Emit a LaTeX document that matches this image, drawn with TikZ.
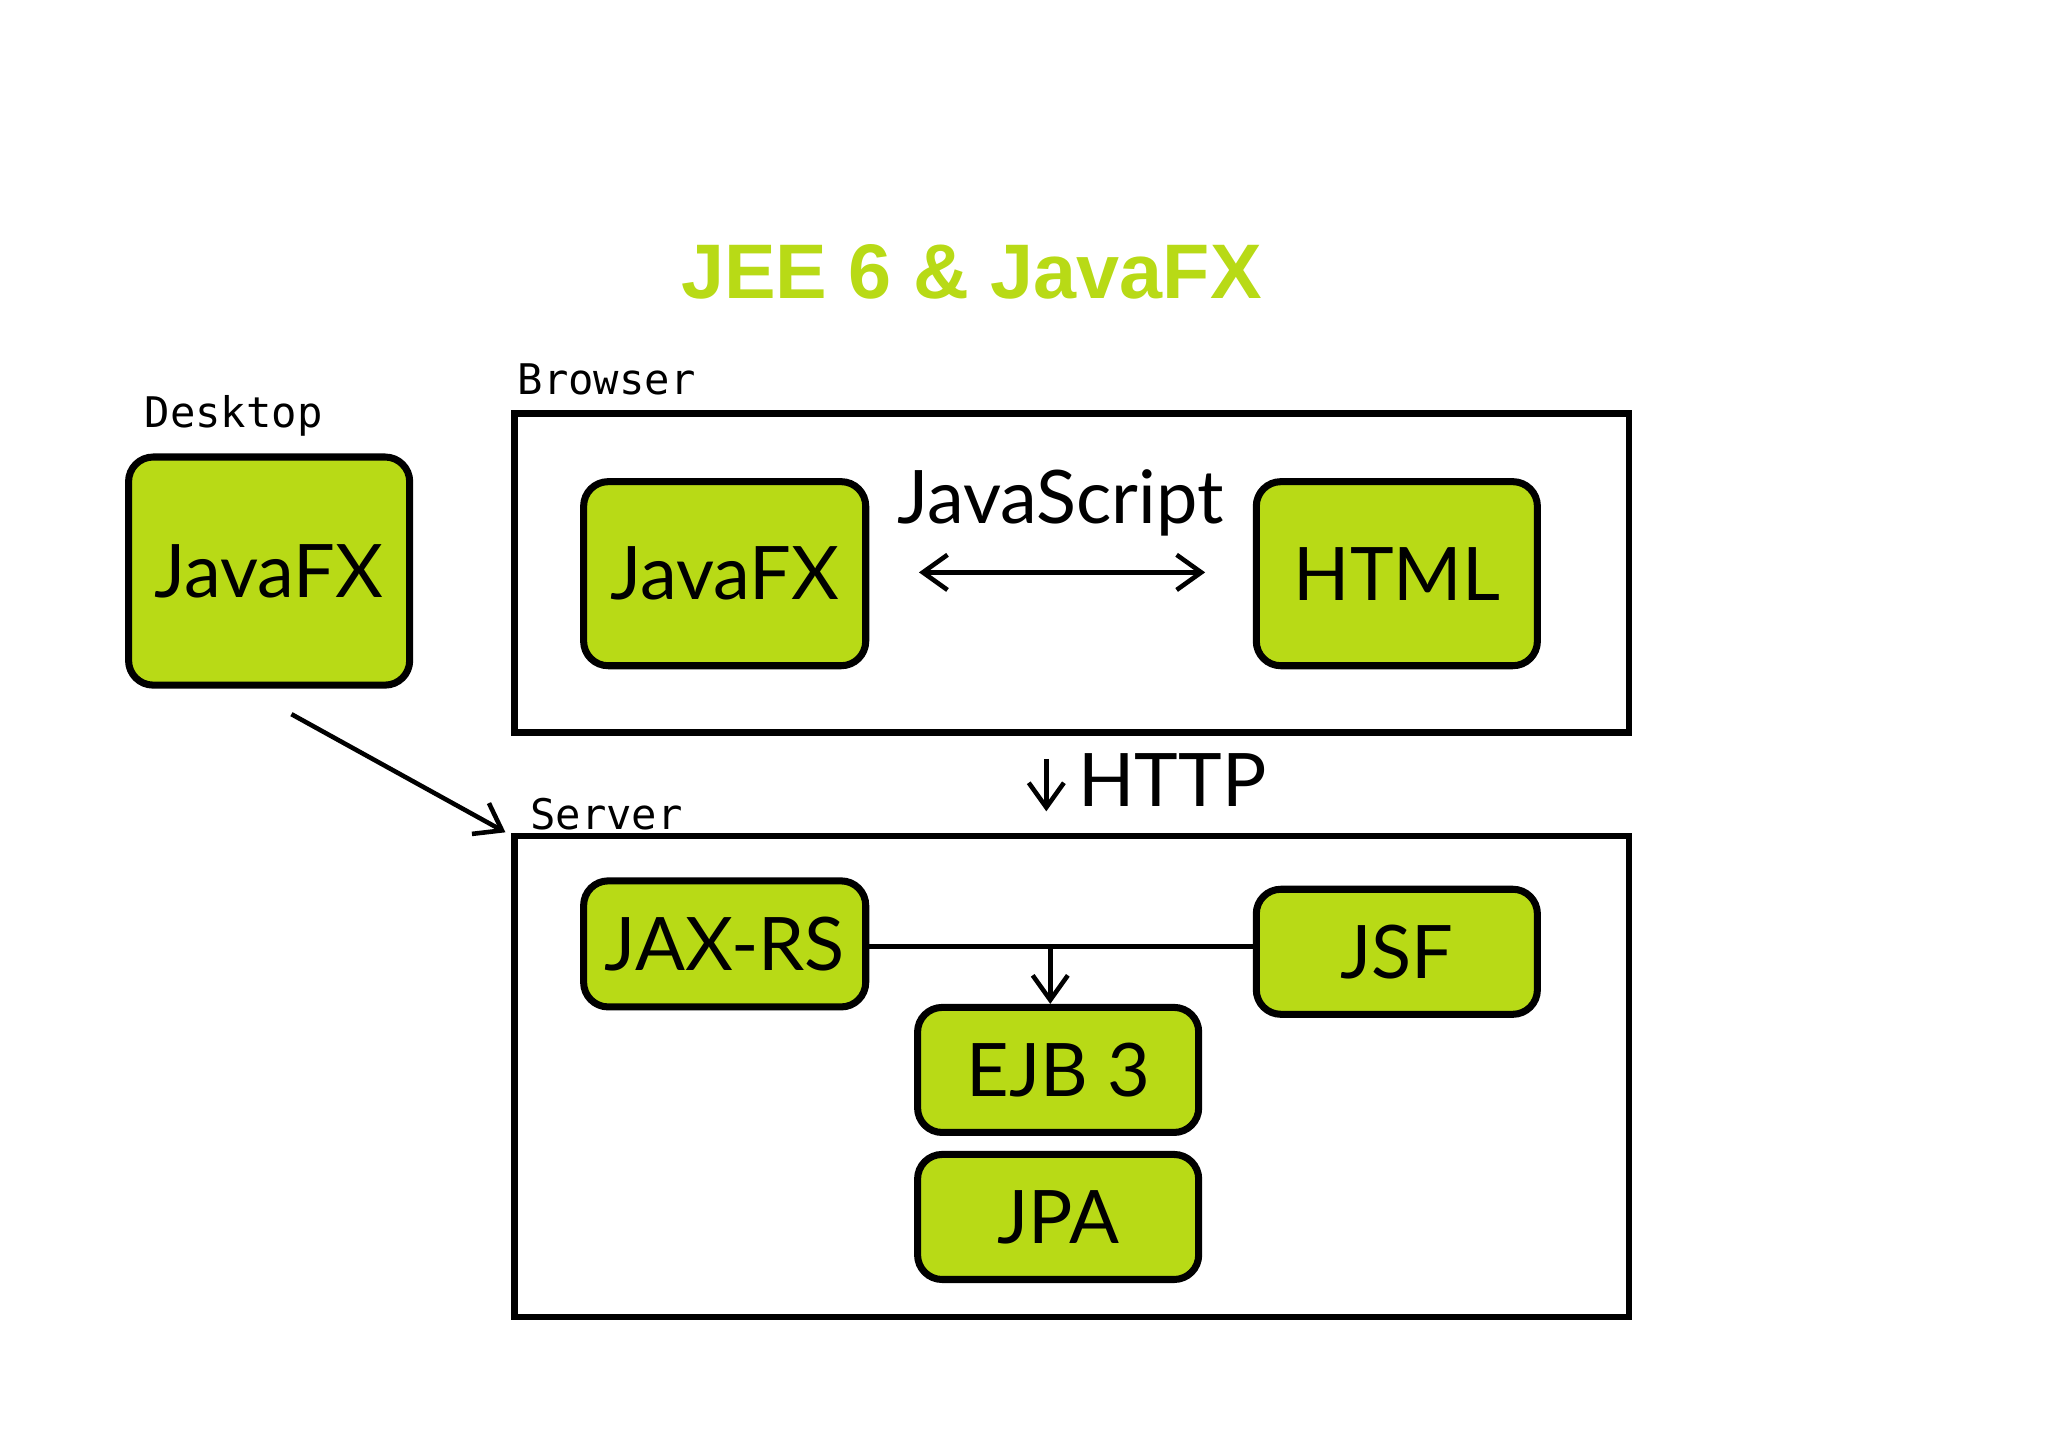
\documentclass[tikz,border=0pt]{standalone}
\usepackage{fontspec}
\setmainfont{Lato}
\newfontfamily\monof{DejaVu Sans Mono}
\newfontfamily\titlef{Liberation Sans}
\definecolor{lime}{RGB}{184,218,22}
\usetikzlibrary{arrows.meta}
\begin{document}
\begin{tikzpicture}[x=0.013128cm,y=-0.013128cm,
  gbox/.style={draw=black,line width=2pt,fill=lime,rounded corners=7pt,inner sep=0pt,font=\fontsize{21}{24}\selectfont},
  frame/.style={draw=black,line width=1.8pt},
  lbl/.style={font=\monof\fontsize{12}{14}\selectfont},
  arr/.style={line width=1.3pt,-{Straight Barb[length=7pt,width=10pt]}}]
\useasboundingbox (0,0) rectangle (1560,1102);
\node[font=\titlef\bfseries\fontsize{22}{26}\selectfont,text=lime] (title) at (740,207) {JEE 6 \& JavaFX};
\node[lbl] (dl) at (178,317) {Desktop};
\node[gbox,minimum width=2.81cm,minimum height=2.28cm] (djfx) at (205,435) {JavaFX};
\node[lbl] (bl) at (462,289) {Browser};
\draw[frame] (392,315) rectangle (1241,558);
\node[gbox,minimum width=2.82cm,minimum height=1.84cm] (bjfx) at (552,437) {JavaFX};
\node[gbox,minimum width=2.81cm,minimum height=1.84cm] (html) at (1064,437) {HTML};
\node[font=\fontsize{21}{24}\selectfont] (js) at (808,383) {JavaScript};
\coordinate (jsl) at (700,436); \coordinate (jsr) at (918,436);
\draw[arr,{Straight Barb[length=7pt,width=10pt]}-{Straight Barb[length=7pt,width=10pt]}] (jsl) -- (jsr);
\coordinate (h1) at (797,578); \coordinate (h2) at (797,618);
\draw[arr] (h1) -- (h2);
\node[font=\fontsize{21}{24}\selectfont,anchor=west] (http) at (812,594) {HTTP};
\node[lbl] (sl) at (462,620) {Server};
\draw[frame] (392,637) rectangle (1241,1003);
\node[gbox,minimum width=2.82cm,minimum height=1.26cm] (jax) at (552,719) {JAX-RS};
\node[gbox,minimum width=2.81cm,minimum height=1.25cm] (jsf) at (1064,725) {JSF};
\node[gbox,minimum width=2.81cm,minimum height=1.25cm] (ejb) at (806,815) {EJB 3};
\node[gbox,minimum width=2.81cm,minimum height=1.25cm] (jpa) at (806,927) {JPA};
\draw[line width=1.5pt] (jax.east |- 0,721) -- (jsf.west |- 0,721);
\coordinate (e1) at (800,721);
\draw[arr] (e1) -- (ejb.north -| e1);
\coordinate (d1) at (222,544); \coordinate (d2) at (385,634);
\draw[arr] (d1) -- (d2);
\end{tikzpicture}
\end{document}
